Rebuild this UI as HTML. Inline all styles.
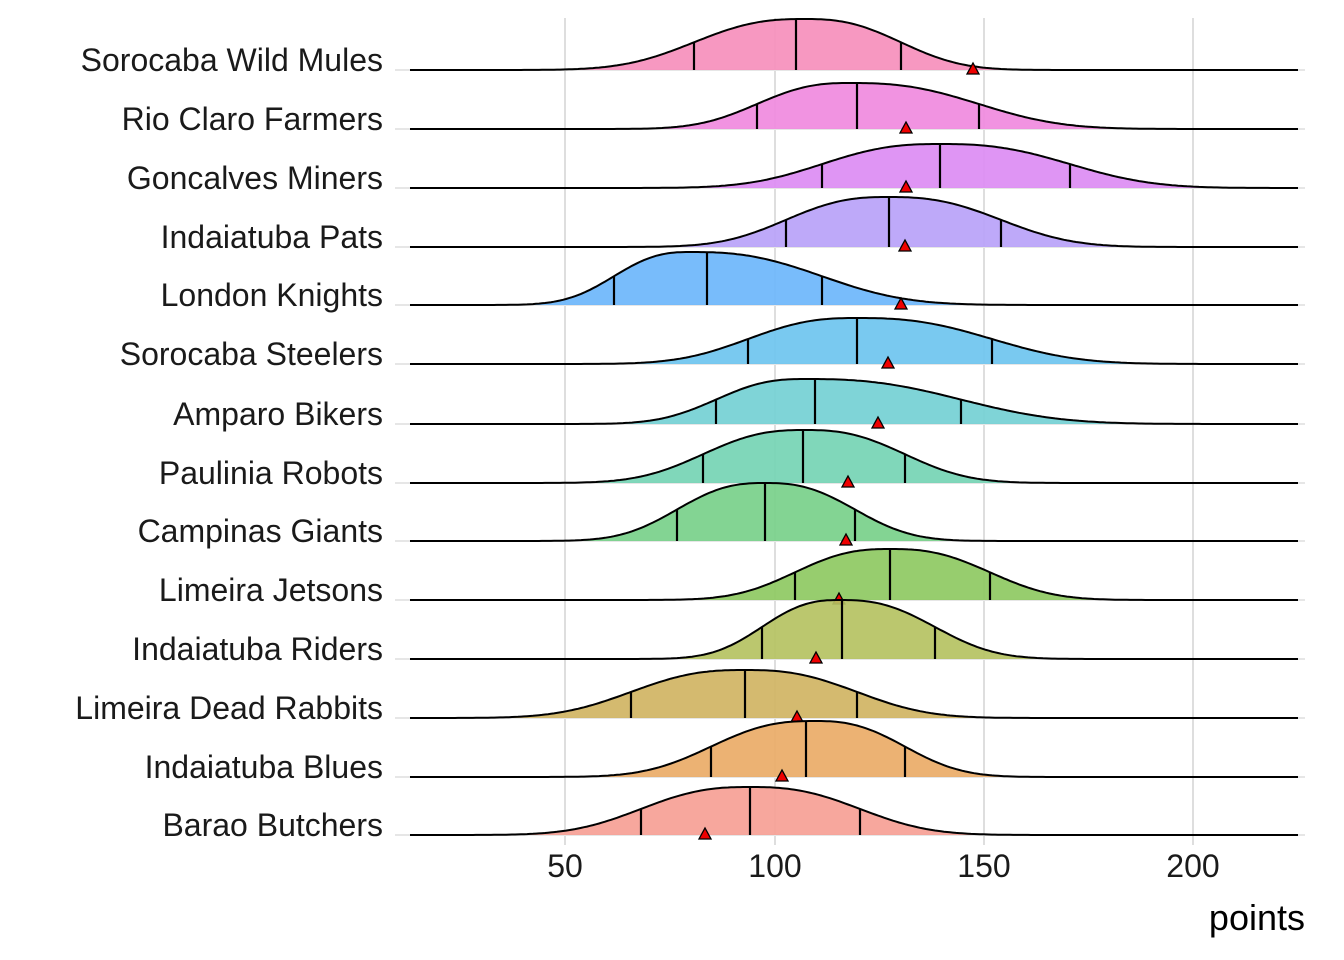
<!DOCTYPE html>
<html><head><meta charset="utf-8"><style>
html,body{margin:0;padding:0;background:#fff;}
svg{display:block;font-family:"Liberation Sans",sans-serif;}
</style></head><body>
<svg id="s" width="1344" height="960" xmlns="http://www.w3.org/2000/svg">
<g stroke="#dedede" stroke-width="2">
<line x1="565" y1="18" x2="565" y2="845"/><line x1="775" y1="18" x2="775" y2="845"/>
<line x1="984" y1="18" x2="984" y2="845"/><line x1="1193" y1="18" x2="1193" y2="845"/>
</g>
<g id="ridges"></g>
<g font-size="32" fill="#1a1a1a" text-anchor="middle">
<text x="565" y="877">50</text><text x="775" y="877">100</text><text x="984" y="877">150</text><text x="1193" y="877">200</text>
</g>
<text x="1305" y="930" font-size="36" text-anchor="end" fill="#000">points</text>
</svg>
<script>
var rows=[
["Sorocaba Wild Mules",70,805,51,694,796,901,973,"#f68fbc"],
["Rio Claro Farmers",129,850,46,757,857,979,906,"#f08ade"],
["Goncalves Miners",188,940,44,822,940,1070,906,"#dc8cf3"],
["Indaiatuba Pats",247,888,50,786,889,1001,905,"#b9a2f9"],
["London Knights",305,690,53,614,707,822,901,"#6cb6fb"],
["Sorocaba Steelers",364,857,46,748,857,992,888,"#6ec4ef"],
["Amparo Bikers",424,805,45,716,815,961,878,"#74d0d4"],
["Paulinia Robots",483,805,53,703,803,905,848,"#75d4b4"],
["Campinas Giants",541,765,58,677,765,855,846,"#78d08a"],
["Limeira Jetsons",600,890,51,795,890,990,839,"#8ec962"],
["Indaiatuba Riders",659,840,59,762,842,935,816,"#b5c262"],
["Limeira Dead Rabbits",718,745,48,631,745,857,797,"#d0b463"],
["Indaiatuba Blues",777,815,56,711,806,905,782,"#eaab67"],
["Barao Butchers",835,750,48,641,750,860,705,"#f69f95"]];
var g=document.getElementById('ridges'),h='';
rows.forEach(function(r){
 var b=r[1],pk=r[2],H=r[3],sl=(pk-r[4])*1.05,sr=(r[6]-pk)*1.05,p=2.6;
 function d(x){var s=x<pk?sl:sr;return H*Math.exp(-0.693*Math.pow(Math.abs(x-pk)/s,p));}
 var pts=[];for(var x=410;x<=1300;x+=3){pts.push(x+','+(b-d(x)).toFixed(1));}
 h+='<line x1="395" y1="'+b+'" x2="1305" y2="'+b+'" stroke="#e6e6e6" stroke-width="2"/>';
 h+='<polygon points="410,'+b+' '+pts.join(' ')+' 1300,'+b+'" fill="'+r[8]+'" fill-opacity="0.92"/>';
 h+='<polyline points="'+pts.join(' ')+'" fill="none" stroke="#000" stroke-width="2"/>';
 [r[4],r[5],r[6]].forEach(function(q){h+='<line x1="'+q+'" y1="'+b+'" x2="'+q+'" y2="'+(b-d(q)).toFixed(1)+'" stroke="#000" stroke-width="2.2"/>';});
 var t=r[7];h+='<polygon points="'+(t-6)+','+(b+4)+' '+(t+6)+','+(b+4)+' '+t+','+(b-7)+'" fill="#e00" stroke="#000" stroke-width="1.3"/>';
 h+='<text x="383" y="'+(b+1)+'" font-size="32" text-anchor="end" fill="#1a1a1a">'+r[0]+'</text>';
});
g.innerHTML=h;
</script>
</body></html>
